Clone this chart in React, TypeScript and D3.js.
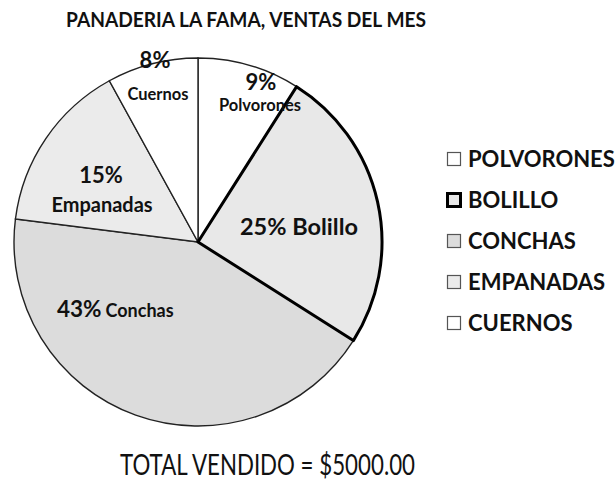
import React from "react";
import * as d3 from "d3";

const categories = ["Polvorones", "Bolillo", "Conchas", "Empanadas", "Cuernos"];
const legendLabels = ["POLVORONES", "BOLILLO", "CONCHAS", "EMPANADAS", "CUERNOS"];
const percents = [9, 25, 43, 15, 8];
const fills = ["#ffffff", "#e8e8e8", "#dcdcdc", "#ebebeb", "#ffffff"];
const title = "PANADERIA LA FAMA, VENTAS DEL MES";
const totalText = "TOTAL VENDIDO = $5000.00";

const W = 616;
const H = 480;
const cx = 198;
const cy = 242;
const R = 184;
const FONT = "Lato, 'Open Sans', sans-serif";

export default function App() {
  const pie = d3.pie<number>().sort(null).value((d) => d).startAngle(0).endAngle(2 * Math.PI);
  const arcs = pie(percents);
  const arc = d3.arc<d3.PieArcDatum<number>>().innerRadius(0).outerRadius(R);
  const legendY = d3.scalePoint<string>().domain(legendLabels).range([159, 323]);

  return (
    <svg width={W} height={H} style={{ position: "absolute", left: 0, top: 0, background: "#fff" }}>
      <text x={246} y={27} textAnchor="middle" fontFamily={FONT} fontWeight={700} fontSize={21}
        textLength={360} lengthAdjust="spacingAndGlyphs" fill="#111">{title}</text>
      <g transform={`translate(${cx},${cy})`}>
        {arcs.map((a, i) => (
          <path key={categories[i]} d={arc(a) || ""} fill={fills[i]} stroke="#222" strokeWidth={1.4} />
        ))}
        <path d={arc(arcs[1]) || ""} fill="none" stroke="#000" strokeWidth={3} strokeLinejoin="round" />
        <g fontFamily={FONT} fontWeight={700} fill="#111" textAnchor="middle">
          <text x={-43} y={-174} fontSize={22}>{percents[4]}%</text>
          <text x={-40} y={-142} fontSize={16.5}>{categories[4]}</text>
          <text x={63} y={-152} fontSize={22}>{percents[0]}%</text>
          <text x={62} y={-131} fontSize={16.5}>{categories[0]}</text>
          <text x={101} y={-7} fontSize={23.5}>{percents[1]}% {categories[1]}</text>
          <text x={-97} y={-59} fontSize={22}>{percents[3]}%</text>
          <text x={-96} y={-30} fontSize={20}>{categories[3]}</text>
          <text x={-141} y={75} textAnchor="start">
            <tspan fontSize={22.5}>{percents[2]}%</tspan>
            <tspan fontSize={18} dx={4}>{categories[2]}</tspan>
          </text>
        </g>
      </g>
      <g fontFamily={FONT} fontWeight={700} fontSize={22} fill="#111">
        {legendLabels.map((l, i) => {
          const y = legendY(l) || 0;
          return (
            <g key={l}>
              <rect x={447.5} y={y - 6.5} width={13} height={13} fill={fills[i]}
                stroke={i === 1 ? "#000" : "#555"} strokeWidth={i === 1 ? 3 : 1.2} />
              <text x={468} y={y + 8}>{l}</text>
            </g>
          );
        })}
      </g>
      <text x={120} y={475} fontFamily={FONT} fontSize={28} fill="#111"
        textLength={295} lengthAdjust="spacingAndGlyphs">{totalText}</text>
    </svg>
  );
}
